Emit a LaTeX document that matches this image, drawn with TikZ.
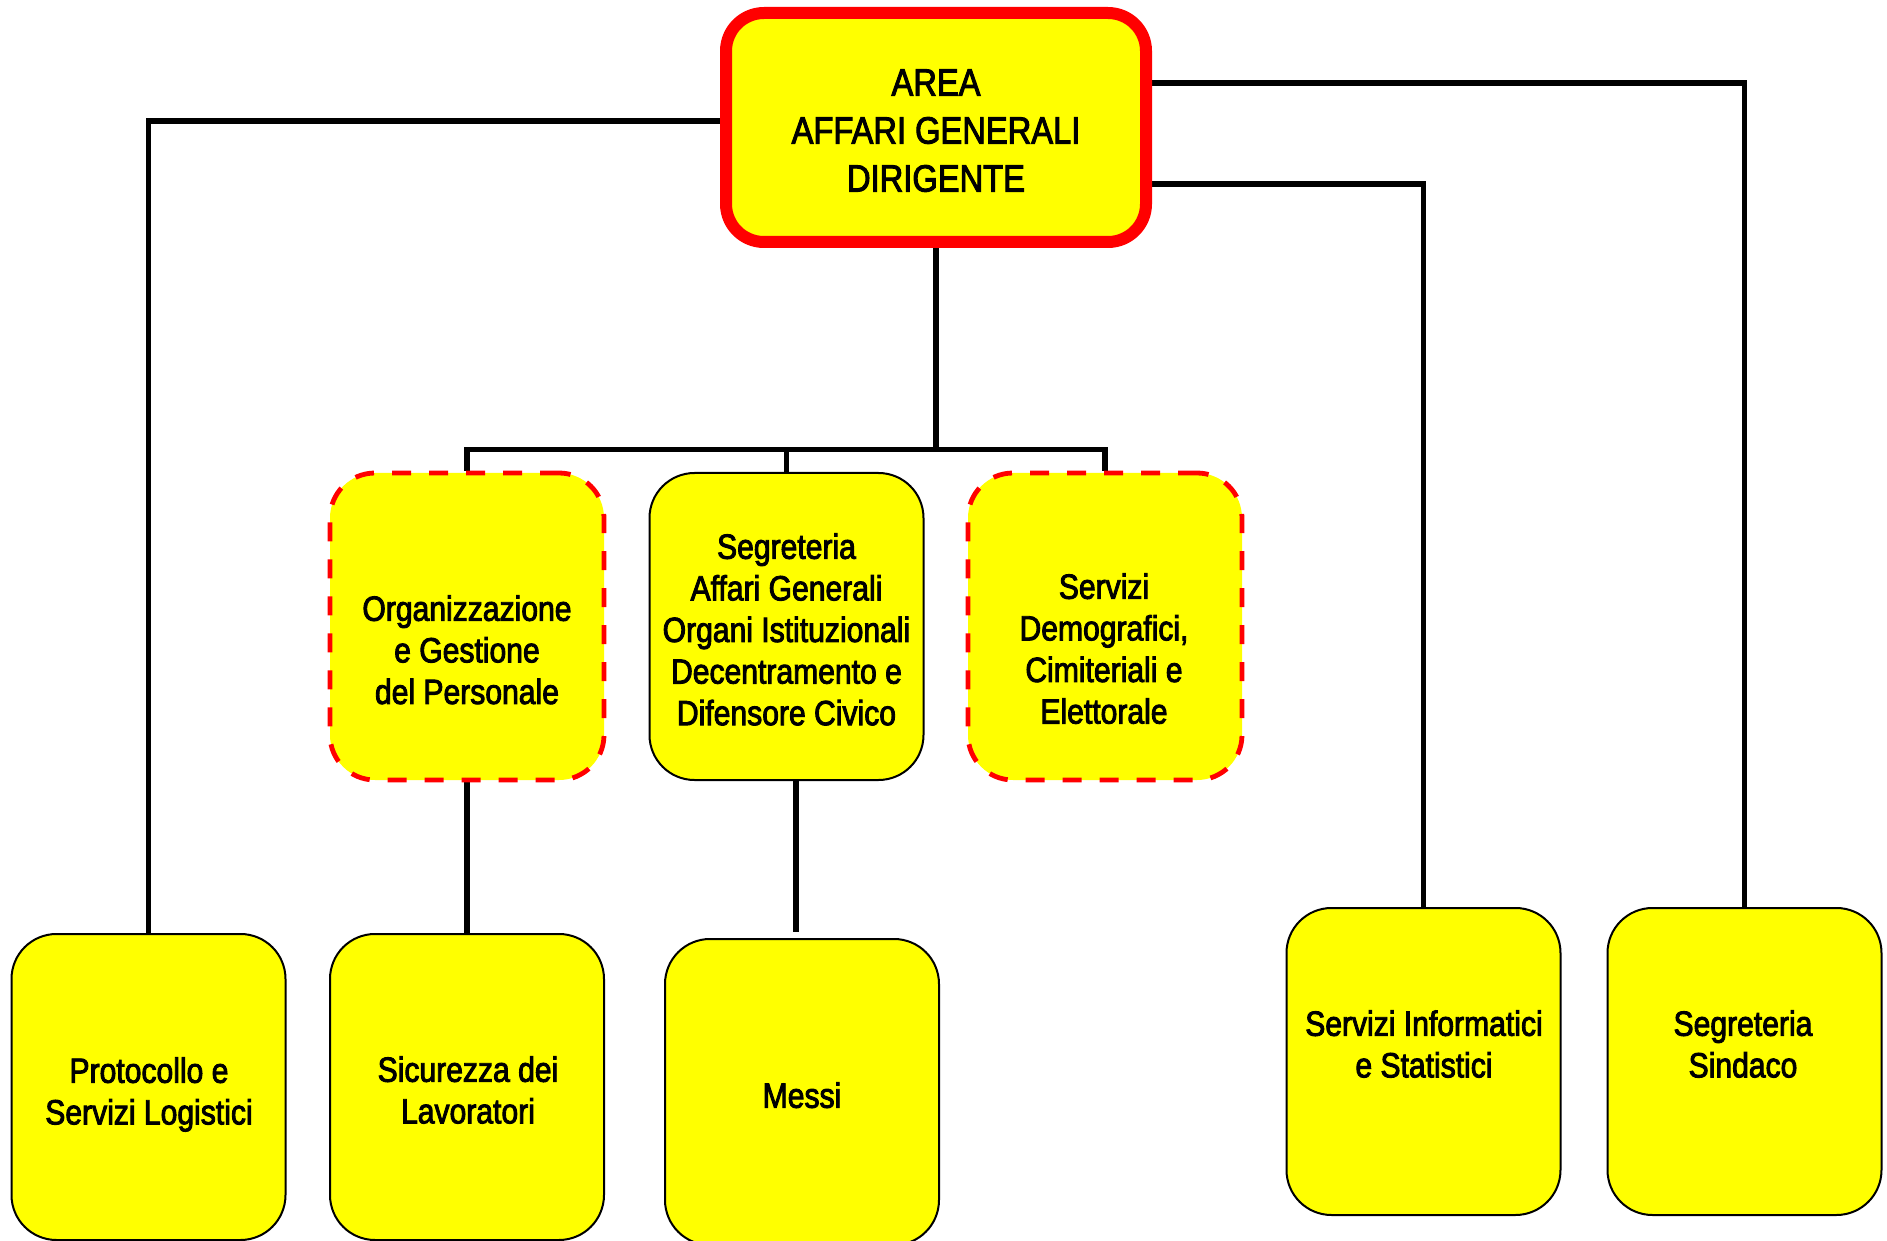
\documentclass[tikz,border=0pt]{standalone}
\usepackage{fontspec}
\setmainfont{Liberation Sans}[FakeStretch=0.86,FakeBold=2.5]
\usetikzlibrary{backgrounds}
\definecolor{yel}{RGB}{255,255,0}
\definecolor{myred}{RGB}{255,0,0}
\begin{document}
\begin{tikzpicture}[x=0.5pt,y=-0.5pt,
  box/.style={draw=black,line width=1pt,fill=yel,rounded corners=22.5pt,
    minimum width=137pt,minimum height=153.5pt,inner sep=0pt},
  dbox/.style={box,draw=myred,line width=2.4pt,dash pattern=on 9.5pt off 9pt},
  topbox/.style={draw=myred,line width=6pt,fill=yel,rounded corners=19pt,
    minimum width=210pt,minimum height=114.5pt,inner sep=0pt},
  lbl/.style={anchor=north,align=center,inner sep=0pt,
    font=\fontsize{17.5pt}{20.8pt}\selectfont},
  toplbl/.style={lbl,font=\fontsize{19pt}{24pt}\selectfont},
  conn/.style={draw=black,line width=2.9pt}]
\useasboundingbox (0,0) rectangle (1887,1241);

% boxes
\node[topbox] (top) at (936,127.5) {};
\node[dbox] (org) at (467,626.5) {};
\node[box] (sag) at (786.5,626.5) {};
\node[dbox] (dem) at (1105,626.5) {};
\node[box,minimum height=153pt] (proto) at (148.5,1087) {};
\node[box,minimum height=153pt] (sic) at (467,1087) {};
\node[box,minimum height=153pt] (messi) at (802,1092) {};
\node[box] (info) at (1423.5,1061.5) {};
\node[box] (sind) at (1744.5,1061.5) {};

% labels
\node[toplbl] (ttop) at (936,69) {AREA\\AFFARI GENERALI\\DIRIGENTE};
\node[lbl] (torg) at (467,595) {Organizzazione\\e Gestione\\del Personale};
\node[lbl] (tsag) at (786.5,533) {Segreteria\\Affari Generali\\Organi Istituzionali\\Decentramento e\\Difensore Civico};
\node[lbl] (tdem) at (1104,573) {Servizi\\Demografici,\\Cimiteriali e\\Elettorale};
\node[lbl] (tproto) at (149,1057) {Protocollo e\\Servizi Logistici};
\node[lbl] (tsic) at (468,1056) {Sicurezza dei\\Lavoratori};
\node[lbl] (tmessi) at (802,1082) {Messi};
\node[lbl] (tinfo) at (1424,1010) {Servizi Informatici\\e Statistici};
\node[lbl] (tsind) at (1743,1010) {Segreteria\\Sindaco};

% connectors
\begin{pgfonlayer}{background}
\coordinate (busc) at (936,449.5);
\draw[conn] (top.west |- 0,121) -| (proto.north);
\draw[conn] (top.east |- 0,83) -| (sind.north);
\draw[conn] (top.east |- 0,184) -| (info.north);
\draw[conn] (top.south) -- (busc);
\draw[conn] (org.north) -- (org.north |- busc) -- (dem.north |- busc) -- (dem.north);
\draw[conn] (sag.north) -- (sag.north |- busc);
\draw[conn] (org.south) -- (sic.north);
\draw[conn,shorten >=3pt] (sag.south -| 796,0) -- (messi.north -| 796,0);
\end{pgfonlayer}
\end{tikzpicture}
\end{document}
